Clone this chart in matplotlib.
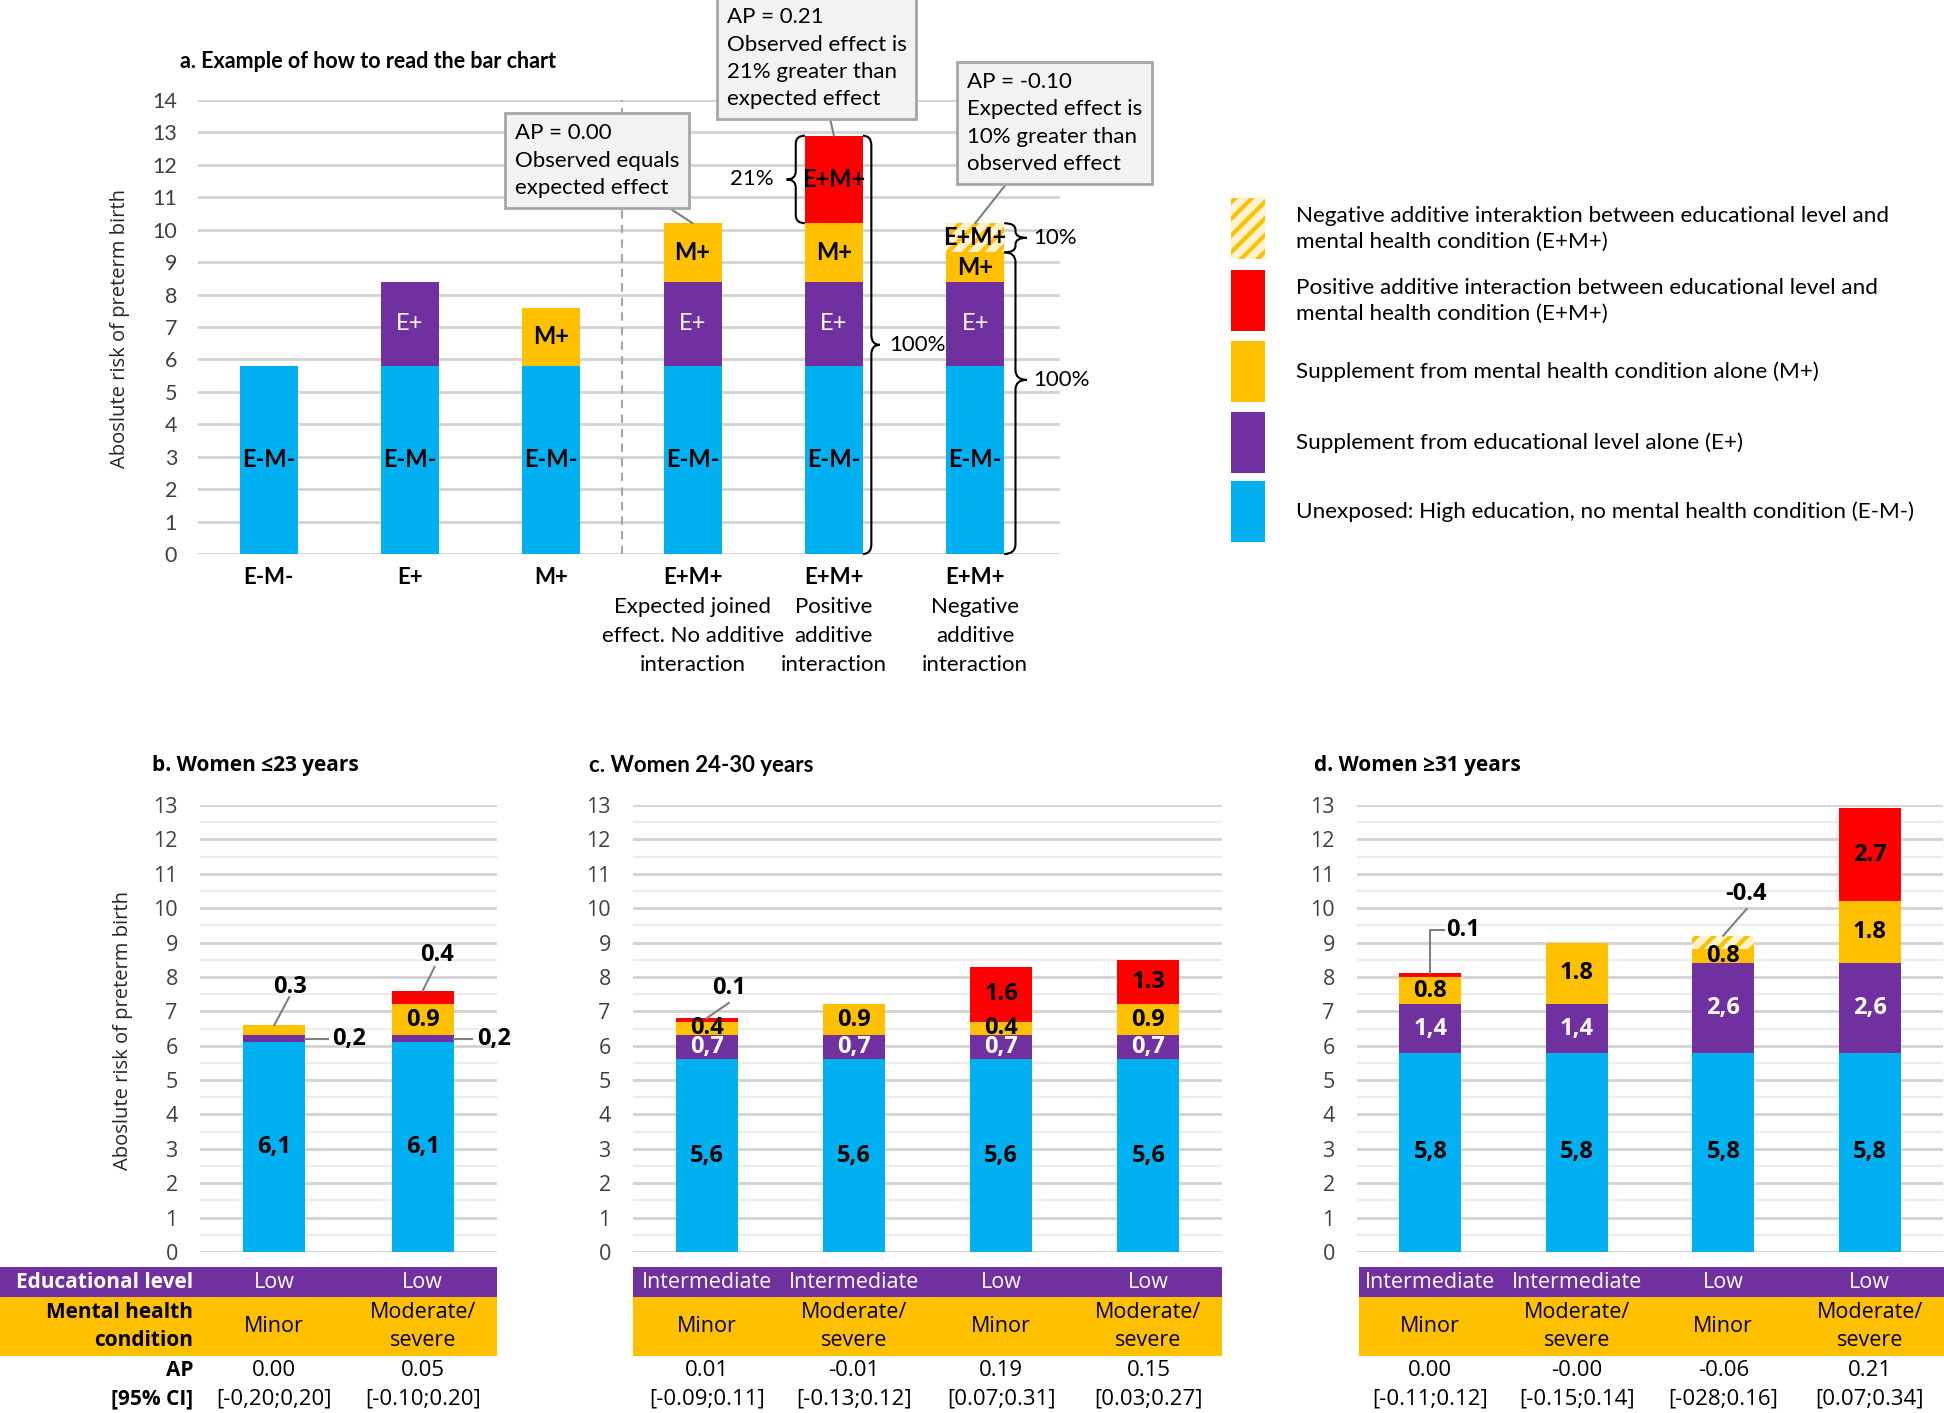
import numpy as np
import matplotlib
matplotlib.use("Agg")
import matplotlib.pyplot as plt
from matplotlib import transforms
from matplotlib.patches import Rectangle, PathPatch
from matplotlib.path import Path

W, H = 1944, 1413

BLUE = "#00B0F0"
PURPLE = "#7030A0"
ORANGE = "#FFC000"
RED = "#FF0000"
HATCH_BG = "#FFF2CC"
GRID = "#D3D3D3"
GRID_MINOR = "#ECECEC"
LEADER = "#808080"
TICK = "#404040"

plt.rcParams["hatch.linewidth"] = 3.0

CAL = ["Lato", "DejaVu Sans"]
SEG = ["Open Sans", "DejaVu Sans"]

# panel a - example
a_sub = ["", "", "", "Expected joined\neffect. No additive\ninteraction",
         "Positive\nadditive\ninteraction", "Negative\nadditive\ninteraction"]
a_cats = ["E-M-", "E+", "M+", "E+M+", "E+M+", "E+M+"]
a_base = [5.8, 5.8, 5.8, 5.8, 5.8, 5.8]
a_edu = [0, 2.6, 0, 2.6, 2.6, 2.6]
a_mental = [0, 0, 1.8, 1.8, 1.8, 1.8]
a_inter = [0, 0, 0, 0, 2.7, -0.9]
a_names = {"base": "E-M-", "edu": "E+", "mental": "M+", "inter": "E+M+"}

# panel b - women <=23
b_base = [6.1, 6.1]
b_edu = [0.2, 0.2]
b_mental = [0.3, 0.9]
b_inter = [0.0, 0.4]
b_educ = ["Low", "Low"]
b_mh = ["Minor", "Moderate/\nsevere"]
b_ap = ["0.00", "0.05"]
b_ci = ["[-0,20;0,20]", "[-0.10;0.20]"]

# panel c - women 24-30
c_base = [5.6, 5.6, 5.6, 5.6]
c_edu = [0.7, 0.7, 0.7, 0.7]
c_mental = [0.4, 0.9, 0.4, 0.9]
c_inter = [0.1, 0.0, 1.6, 1.3]
c_educ = ["Intermediate", "Intermediate", "Low", "Low"]
c_mh = ["Minor", "Moderate/\nsevere", "Minor", "Moderate/\nsevere"]
c_ap = ["0.01", "-0.01", "0.19", "0.15"]
c_ci = ["[-0.09;0.11]", "[-0.13;0.12]", "[0.07;0.31]", "[0.03;0.27]"]

# panel d - women >=31
d_base = [5.8, 5.8, 5.8, 5.8]
d_edu = [1.4, 1.4, 2.6, 2.6]
d_mental = [0.8, 1.8, 0.8, 1.8]
d_inter = [0.1, 0.0, -0.4, 2.7]
d_educ = ["Intermediate", "Intermediate", "Low", "Low"]
d_mh = ["Minor", "Moderate/\nsevere", "Minor", "Moderate/\nsevere"]
d_ap = ["0.00", "-0.00", "-0.06", "0.21"]
d_ci = ["[-0.11;0.12]", "[-0.15;0.14]", "[-028;0.16]", "[0.07;0.34]"]

legend_labels = [
    "Negative additive interaktion between educational level and\nmental health condition (E+M+)",
    "Positive additive interaction between educational level and\nmental health condition (E+M+)",
    "Supplement from mental health condition alone (M+)",
    "Supplement from educational level alone (E+)",
    "Unexposed: High education, no mental health condition (E-M-)",
]


def px_rect(l, t, r, b):
    return [l / W, 1 - b / H, (r - l) / W, (b - t) / H]


def style_axis(ax, ymax, minor, fam, fs, pad):
    ax.set_ylim(0, ymax)
    ax.set_yticks(range(0, ymax + 1))
    ax.set_yticklabels([str(v) for v in range(ymax + 1)], fontsize=fs,
                       family=fam, color=TICK)
    if minor:
        ax.set_yticks(np.arange(0.5, ymax, 1), minor=True)
        ax.yaxis.grid(True, which="minor", color=GRID_MINOR, lw=1.6)
    ax.yaxis.grid(True, which="major", color=GRID, lw=2.0)
    ax.tick_params(axis="y", which="both", length=0, pad=pad)
    ax.set_xticks([])
    for s in ax.spines.values():
        s.set_visible(False)
    ax.set_axisbelow(True)
    ax.patch.set_alpha(0)


def draw_bars(ax, base, edu, mental, inter, width):
    x = np.arange(len(base))
    base = np.asarray(base, float)
    edu = np.asarray(edu, float)
    mental = np.asarray(mental, float)
    inter = np.asarray(inter, float)
    b2 = base + edu
    b3 = b2 + mental
    ax.bar(x, base, width, color=BLUE, zorder=3)
    ax.bar(x, edu, width, bottom=base, color=PURPLE, zorder=3)
    ax.bar(x, mental, width, bottom=b2, color=ORANGE, zorder=3)
    pos = np.where(inter > 0, inter, 0)
    ax.bar(x, pos, width, bottom=b3, color=RED, zorder=3)
    neg = np.where(inter < 0, -inter, 0)
    ax.bar(x, neg, width, bottom=b3 - neg, facecolor=HATCH_BG, edgecolor=ORANGE,
           hatch="//", linewidth=0, zorder=4)


def comma(v):
    return ("%.1f" % v).replace(".", ",")


def dot(v):
    return "%.1f" % v


def label_bars(ax, base, edu, mental, inter, width, callouts, fam, fs,
               names=None):
    for i in range(len(base)):
        b1 = base[i]
        b2 = b1 + edu[i]
        b3 = b2 + mental[i]
        vis3 = b3 + min(inter[i], 0)
        if inter[i] >= 0:
            ilo, ihi = b3, b3 + inter[i]
        else:
            ilo, ihi = vis3, b3
        segs = [("base", 0, b1, base[i], comma(base[i]), "black"),
                ("edu", b1, b2, edu[i], comma(edu[i]), "white"),
                ("mental", b2, vis3, mental[i], dot(mental[i]), "black"),
                ("inter", ilo, ihi, inter[i], dot(inter[i]), "black")]
        for key, lo, hi, val, txt, col in segs:
            if val == 0:
                continue
            if names is not None:
                txt = names[key]
            weight = "normal" if (names is not None and col == "white") else "bold"
            spec = callouts.get((i, key))
            if spec is None:
                ax.text(i, (lo + hi) / 2, txt, ha="center", va="center",
                        color=col, fontsize=fs, family=fam, weight=weight,
                        zorder=6)
            elif spec[0] == "side":
                y = (lo + hi) / 2
                ax.plot([i + width / 2, i + spec[1] - 0.03], [y, y],
                        color=LEADER, lw=1.5, clip_on=False, zorder=5)
                ax.text(i + spec[1], y, txt, ha="left", va="center",
                        fontsize=fs, family=fam, weight="bold", clip_on=False)
            elif spec[0] == "up":
                _, tx, ty, lx, ly = spec
                ax.plot([i, i + lx], [hi, hi + ly], color=LEADER, lw=1.5,
                        clip_on=False, zorder=5)
                ax.text(i + tx, hi + ty, txt, ha="center", va="center",
                        fontsize=fs, family=fam, weight="bold")
            elif spec[0] == "elbow":
                _, tx, ty = spec
                ax.plot([i, i, i + tx - 0.01], [hi, hi + ty, hi + ty],
                        color=LEADER, lw=1.5, clip_on=False, zorder=5)
                ax.text(i + tx, hi + ty, txt, ha="left", va="center",
                        fontsize=fs, family=fam, weight="bold")


def brace(ax, x, y0, y1, d, ym=None, r=0.3):
    if ym is None:
        ym = (y0 + y1) / 2
    xm = x + d / 2
    xt = x + d
    verts = [(x, y1), (xm, y1), (xm, y1 - r), (xm, ym + r), (xm, ym), (xt, ym),
             (xm, ym), (xm, ym - r), (xm, y0 + r), (xm, y0), (x, y0)]
    codes = [Path.MOVETO, Path.CURVE3, Path.CURVE3, Path.LINETO, Path.CURVE3,
             Path.CURVE3, Path.CURVE3, Path.CURVE3, Path.LINETO, Path.CURVE3,
             Path.CURVE3]
    ax.add_patch(PathPatch(Path(verts, codes), fc="none", ec="black", lw=1.5,
                           clip_on=False, zorder=6))


fig = plt.figure(figsize=(W / 100, H / 100), dpi=100)
ov = fig.add_axes([0, 0, 1, 1])
ov.set_xlim(0, W)
ov.set_ylim(H, 0)
ov.axis("off")

# ---------------- panel a ----------------
axa = fig.add_axes(px_rect(198, 100, 1060, 554))
axa.set_xlim(-0.5, 5.6)
style_axis(axa, 14, False, CAL, 15.5, 15)
draw_bars(axa, a_base, a_edu, a_mental, a_inter, 0.41)
label_bars(axa, a_base, a_edu, a_mental, a_inter, 0.41, {}, CAL, 17,
           names=a_names)
axa.axvline(2.5, color="#A6A6A6", ls=(0, (4, 3)), lw=1.5, zorder=2)
bta = transforms.blended_transform_factory(axa.transData, ov.transData)
for i, (cat, sub) in enumerate(zip(a_cats, a_sub)):
    ov.text(i, 578, cat, transform=bta, ha="center", va="center", fontsize=16,
            family=CAL, weight="bold")
    if sub:
        for j, line in enumerate(sub.split("\n")):
            ov.text(i, 607 + 29 * j, line, transform=bta, ha="center",
                    va="center", fontsize=16, family=CAL)

box_style = dict(boxstyle="square,pad=0.45", fc="#F2F2F2", ec="#A6A6A6", lw=2)
arrow_style = dict(arrowstyle="-", color=LEADER, lw=1.5, shrinkA=0, shrinkB=0)
a_top = np.array(a_base) + np.array(a_edu) + np.array(a_mental)
axa.annotate("AP = 0.00\nObserved equals\nexpected effect", xy=(3, a_top[3]),
             xytext=(1.74, 12.13), ha="left", va="center", fontsize=16,
             family=CAL, linespacing=1.45, bbox=box_style, arrowprops=arrow_style,
             annotation_clip=False, zorder=7)
axa.annotate("AP = 0.21\nObserved effect is\n21% greater than\nexpected effect",
             xy=(4, a_top[4] + a_inter[4]), xytext=(3.24, 15.29), ha="left",
             va="center", fontsize=16, family=CAL, linespacing=1.45,
             bbox=box_style, arrowprops=arrow_style, annotation_clip=False,
             zorder=7)
axa.annotate("AP = -0.10\nExpected effect is\n10% greater than\nobserved effect",
             xy=(5, a_top[5]), xytext=(4.94, 13.29), ha="left", va="center",
             fontsize=16, family=CAL, linespacing=1.45, bbox=box_style,
             arrowprops=arrow_style, annotation_clip=False, zorder=7)

# braces
hw = 0.205
pos_top = a_top[4] + a_inter[4]
brace(axa, 4 - hw, a_top[4], pos_top, -0.13, r=0.25)
axa.text(3.57, (a_top[4] + pos_top) / 2, "21%", ha="right", va="center",
         fontsize=16, family=CAL)
brace(axa, 4 + hw, 0, pos_top, 0.12)
axa.text(4.39, pos_top / 2, "100%", ha="left", va="center", fontsize=16,
         family=CAL)
neg_lo = a_top[5] + a_inter[5]
brace(axa, 5 + hw, neg_lo, a_top[5], 0.16, r=0.2)
axa.text(5.41, (neg_lo + a_top[5]) / 2, "10%", ha="left", va="center",
         fontsize=16, family=CAL)
brace(axa, 5 + hw, 0, neg_lo, 0.16, ym=5.37)
axa.text(5.41, 5.37, "100%", ha="left", va="center", fontsize=16, family=CAL)

ov.text(180, 62, "a. Example of how to read the bar chart", ha="left",
        va="center", fontsize=15.5, family=CAL, weight="bold")
ov.text(120, 329, "Aboslute risk of preterm birth", rotation=90, ha="center",
        va="center", fontsize=14.5, family=SEG, color="#262626")

# legend
leg_tops = [198, 270, 341, 412, 481]
leg_cols = [None, RED, ORANGE, PURPLE, BLUE]
for top, col, lab in zip(leg_tops, leg_cols, legend_labels):
    if col is None:
        ov.add_patch(Rectangle((1231, top), 34, 61, facecolor=HATCH_BG,
                               edgecolor=ORANGE, hatch="//", linewidth=0))
    else:
        ov.add_patch(Rectangle((1231, top), 34, 61, facecolor=col,
                               linewidth=0))
    ov.text(1296, top + 31, lab, ha="left", va="center", fontsize=16.2,
            family=CAL, linespacing=1.4)

# ---------------- bottom panels ----------------
panels = [
    dict(rect=(200, 805, 497, 1252), base=b_base, edu=b_edu, mental=b_mental,
         inter=b_inter, educ=b_educ, mh=b_mh, ap=b_ap, ci=b_ci,
         band=(0, 497), title="b. Women \u226423 years", tx=152, tfam=SEG,
         callouts={(0, "edu"): ("side", 0.39), (1, "edu"): ("side", 0.365),
                   (0, "mental"): ("up", 0.106, 1.1, 0.1, 0.81),
                   (1, "inter"): ("up", 0.096, 1.03, 0.08, 0.69)}),
    dict(rect=(633, 805, 1222, 1252), base=c_base, edu=c_edu, mental=c_mental,
         inter=c_inter, educ=c_educ, mh=c_mh, ap=c_ap, ci=c_ci,
         band=(633, 1222), title="c. Women 24-30 years", tx=589, tfam=CAL,
         callouts={(0, "inter"): ("up", 0.152, 0.87, 0.15, 0.44)}),
    dict(rect=(1357, 805, 1943, 1252), base=d_base, edu=d_edu, mental=d_mental,
         inter=d_inter, educ=d_educ, mh=d_mh, ap=d_ap, ci=d_ci,
         band=(1359, 1944), title="d. Women \u226531 years", tx=1314, tfam=SEG,
         callouts={(0, "inter"): ("elbow", 0.107, 1.26),
                   (2, "inter"): ("up", 0.155, 1.2, 0.16, 0.78)}),
]

for p in panels:
    ax = fig.add_axes(px_rect(*p["rect"]))
    n = len(p["base"])
    ax.set_xlim(-0.5, n - 0.5)
    style_axis(ax, 13, True, SEG, 15.5, 16)
    draw_bars(ax, p["base"], p["edu"], p["mental"], p["inter"], 0.42)
    label_bars(ax, p["base"], p["edu"], p["mental"], p["inter"], 0.42,
               p["callouts"], SEG, 17)
    ov.text(p["tx"], 766, p["title"], ha="left", va="center",
            fontsize=16 if p["tfam"] is CAL else 15, family=p["tfam"],
            weight="bold")
    l, r = p["band"]
    ov.add_patch(Rectangle((l, 1267), r - l, 30, facecolor=PURPLE, lw=0))
    ov.add_patch(Rectangle((l, 1297), r - l, 59, facecolor=ORANGE, lw=0))
    bt = transforms.blended_transform_factory(ax.transData, ov.transData)
    for i in range(n):
        ov.text(i, 1283, p["educ"][i], transform=bt, ha="center", va="center",
                fontsize=15.5, family=SEG, color="white")
        mh_lines = p["mh"][i].split("\n")
        if len(mh_lines) == 1:
            ov.text(i, 1327, mh_lines[0], transform=bt, ha="center",
                    va="center", fontsize=15.5, family=SEG)
        else:
            for j, line in enumerate(mh_lines):
                ov.text(i, 1312 + 28 * j, line, transform=bt, ha="center",
                        va="center", fontsize=15.5, family=SEG)
        ov.text(i, 1371, p["ap"][i], transform=bt, ha="center", va="center",
                fontsize=16, family=SEG)
        ov.text(i, 1399, p["ci"][i], transform=bt, ha="center", va="center",
                fontsize=16, family=SEG)

# row labels of the table
ov.text(193, 1283, "Educational level", ha="right", va="center", fontsize=15,
        family=SEG, weight="bold", color="white")
ov.text(193, 1312, "Mental health", ha="right", va="center", fontsize=15,
        family=SEG, weight="bold")
ov.text(193, 1340, "condition", ha="right", va="center", fontsize=15,
        family=SEG, weight="bold")
ov.text(193, 1371, "AP", ha="right", va="center", fontsize=15, family=SEG,
        weight="bold")
ov.text(193, 1399, "[95% CI]", ha="right", va="center", fontsize=15,
        family=SEG, weight="bold")
ov.text(123, 1031, "Aboslute risk of preterm birth", rotation=90, ha="center",
        va="center", fontsize=14.5, family=SEG, color="#262626")

fig.savefig("out.png", dpi=100)
